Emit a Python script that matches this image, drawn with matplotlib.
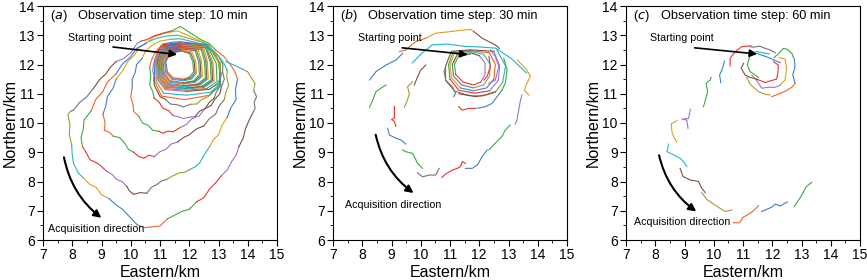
import matplotlib
matplotlib.use("Agg")
import matplotlib.pyplot as plt
from matplotlib.patches import FancyArrowPatch
from matplotlib.ticker import MultipleLocator

plt.rcParams['font.family'] = ['Liberation Sans', 'DejaVu Sans']

palette = ['#3c7fd4', '#f26522', '#3cab45', '#e8352e', '#a070cc',
           '#7e4e3e', '#747474', '#a09c32', '#20b8c8', '#dca020']

x_ticks = [7, 8, 9, 10, 11, 12, 13, 14, 15]
y_ticks = [6, 7, 8, 9, 10, 11, 12, 13, 14]
tags = ['a', 'b', 'c']
titles = ['Observation time step: 10 min',
          'Observation time step: 30 min',
          'Observation time step: 60 min']

# panel (a): dense inner rings of the spiral, inner to outer (km)
rings_a = [
    [(11.7, 12.45), (11.35, 12.38), (11.2, 12.1), (11.25, 11.75), (11.45, 11.55), (11.8, 11.5),
     (12.0, 11.57), (12.15, 11.75), (12.12, 12.1), (12.0, 12.38)],
    [(11.68, 12.48), (11.32, 12.4), (11.17, 12.1), (11.22, 11.74), (11.42, 11.52), (11.8, 11.47),
     (12.04, 11.53), (12.2, 11.72), (12.17, 12.1), (12.05, 12.4)],
    [(11.65, 12.5), (11.3, 12.42), (11.15, 12.12), (11.2, 11.72), (11.4, 11.5), (11.8, 11.44),
     (12.08, 11.5), (12.25, 11.7), (12.22, 12.1), (12.1, 12.42)],
    [(11.7, 12.52), (11.28, 12.45), (11.1, 12.15), (11.15, 11.7), (11.35, 11.45), (11.8, 11.38),
     (12.15, 11.44), (12.35, 11.65), (12.32, 12.1), (12.2, 12.47)],
    [(11.69, 12.54), (11.26, 12.46), (11.08, 12.13), (11.12, 11.68), (11.34, 11.42), (11.8, 11.35),
     (12.18, 11.42), (12.4, 11.62), (12.37, 12.11), (12.25, 12.48)],
    [(11.68, 12.55), (11.25, 12.48), (11.06, 12.12), (11.1, 11.66), (11.32, 11.4), (11.8, 11.33),
     (12.22, 11.4), (12.45, 11.6), (12.42, 12.12), (12.3, 12.5)],
    [(11.7, 12.57), (11.22, 12.5), (11.03, 12.15), (11.07, 11.62), (11.3, 11.35), (11.82, 11.28),
     (12.3, 11.34), (12.55, 11.55), (12.52, 12.12), (12.4, 12.52)],
    [(11.69, 12.58), (11.21, 12.51), (11.01, 12.13), (11.05, 11.61), (11.28, 11.32), (11.82, 11.26),
     (12.34, 11.32), (12.6, 11.53), (12.57, 12.11), (12.45, 12.53)],
    [(11.68, 12.6), (11.2, 12.52), (11.0, 12.12), (11.04, 11.6), (11.27, 11.3), (11.82, 11.24),
     (12.38, 11.3), (12.65, 11.52), (12.62, 12.1), (12.5, 12.55)],
    [(11.7, 12.62), (11.18, 12.55), (10.97, 12.15), (11.0, 11.57), (11.24, 11.26), (11.85, 11.2),
     (12.45, 11.26), (12.75, 11.48), (12.72, 12.08), (12.55, 12.58)],
    [(11.69, 12.63), (11.16, 12.56), (10.95, 12.13), (10.98, 11.56), (11.23, 11.24), (11.85, 11.18),
     (12.48, 11.24), (12.8, 11.46), (12.77, 12.06), (12.58, 12.59)],
    [(11.68, 12.65), (11.15, 12.57), (10.94, 12.12), (10.97, 11.55), (11.22, 11.22), (11.85, 11.16),
     (12.52, 11.22), (12.85, 11.45), (12.82, 12.05), (12.6, 12.6)],
    [(11.7, 12.68), (11.12, 12.6), (10.91, 12.15), (10.94, 11.52), (11.2, 11.18), (11.88, 11.12),
     (12.6, 11.18), (12.95, 11.42), (12.92, 12.05), (12.62, 12.63)],
    [(11.7, 12.7), (11.1, 12.62), (10.88, 12.12), (10.9, 11.5), (11.18, 11.14), (11.9, 11.08),
     (12.68, 11.15), (13.05, 11.4), (13.02, 12.05), (12.65, 12.66)],
    [(11.7, 12.72), (11.08, 12.64), (10.86, 12.15), (10.86, 11.45), (11.12, 11.02), (11.9, 10.95),
     (12.72, 11.05), (13.07, 11.35), (13.05, 12.05), (12.67, 12.68)],
    [(11.7, 12.73), (11.06, 12.65), (10.83, 12.2), (10.8, 11.45), (11.05, 10.92), (11.85, 10.8),
     (12.7, 10.95), (13.07, 11.3), (13.06, 12.05), (12.6, 12.7)],
]

# panel (a): outer loops of the spiral, inner to outer (km)
loops_a = [
    [(11.7, 12.74), (11.4, 12.72), (11.05, 12.66), (10.92, 12.45), (10.85, 12.25), (10.78, 12.02),
     (10.75, 11.8), (10.8, 11.55), (10.8, 11.3), (10.9, 11.1), (11.0, 10.9), (11.2, 10.8),
     (11.35, 10.65), (11.6, 10.62), (11.8, 10.55), (12.05, 10.64), (12.25, 10.65), (12.45, 10.82),
     (12.65, 10.9), (12.78, 11.08), (12.95, 11.2), (13.0, 11.42), (13.08, 11.6), (13.03, 11.82),
     (13.05, 12.05), (12.92, 12.22), (12.85, 12.4), (12.68, 12.52), (12.5, 12.68)],
    [(11.7, 12.78), (11.4, 12.76), (11.1, 12.7), (10.92, 12.52), (10.8, 12.35), (10.7, 12.12),
     (10.65, 11.9), (10.68, 11.6), (10.65, 11.3), (10.75, 11.08), (10.8, 10.85), (10.98, 10.7),
     (11.1, 10.5), (11.3, 10.42), (11.45, 10.25), (11.62, 10.22), (11.8, 10.15), (12.0, 10.2),
     (12.2, 10.22), (12.35, 10.4), (12.55, 10.5), (12.68, 10.7), (12.85, 10.85), (12.92, 11.05),
     (13.05, 11.25), (13.05, 11.48), (13.1, 11.7), (13.02, 11.9), (13.0, 12.1), (12.92, 12.3),
     (12.8, 12.45), (12.6, 12.55), (12.45, 12.7)],
    [(11.7, 12.88), (11.35, 12.86), (11.0, 12.8), (10.72, 12.65), (10.5, 12.45), (10.38, 12.2),
     (10.2, 12.0), (10.15, 11.72), (10.05, 11.5), (10.05, 11.2), (10.0, 10.9), (10.08, 10.62),
     (10.1, 10.4), (10.28, 10.22), (10.4, 10.0), (10.6, 9.92), (10.75, 9.75), (10.95, 9.72),
     (11.1, 9.65), (11.28, 9.72), (11.45, 9.7), (11.7, 9.85), (11.9, 9.95), (12.1, 10.15),
     (12.35, 10.25), (12.52, 10.48), (12.75, 10.6), (12.88, 10.82), (13.05, 11.0), (13.1, 11.25),
     (13.2, 11.5), (13.14, 11.75), (13.15, 12.0), (13.05, 12.2), (12.9, 12.4), (12.72, 12.55),
     (12.5, 12.75)],
    [(11.6, 13.0), (11.25, 12.98), (10.9, 12.9), (10.6, 12.78), (10.3, 12.6), (10.12, 12.32),
     (9.9, 12.1), (9.72, 11.78), (9.5, 11.5), (9.4, 11.2), (9.2, 10.9), (9.15, 10.6), (9.05, 10.3),
     (9.12, 10.02), (9.1, 9.75), (9.28, 9.68), (9.4, 9.55), (9.62, 9.5), (9.8, 9.3), (9.92, 9.1),
     (10.1, 9.0), (10.28, 8.85), (10.45, 8.8), (10.62, 8.9), (10.8, 8.85), (11.0, 9.02), (11.2, 9.1),
     (11.38, 9.28), (11.6, 9.35), (11.8, 9.5), (12.0, 9.6), (12.25, 9.8), (12.5, 9.9), (12.68, 10.14),
     (12.9, 10.3), (13.02, 10.58), (13.2, 10.8), (13.25, 11.05), (13.35, 11.3), (13.28, 11.55),
     (13.3, 11.8), (13.18, 12.05), (13.0, 12.3), (12.8, 12.5), (12.5, 12.75)],
    [(11.6, 13.15), (11.2, 13.08), (10.8, 12.95), (10.52, 12.72), (10.2, 12.55), (9.98, 12.25),
     (9.7, 12.0), (9.5, 11.68), (9.2, 11.4), (9.05, 11.08), (8.8, 10.8), (8.65, 10.42), (8.4, 10.1),
     (8.38, 9.8), (8.3, 9.5), (8.35, 9.2), (8.48, 8.98), (8.6, 8.75), (8.9, 8.6), (9.18, 8.35),
     (9.35, 8.25), (9.52, 8.07), (9.7, 8.0), (9.86, 7.84), (9.95, 7.68), (10.1, 7.56), (10.32, 7.62),
     (10.55, 7.6), (10.7, 7.8), (10.9, 7.9), (11.05, 8.02), (11.23, 8.07), (11.45, 8.2), (11.68, 8.3),
     (11.85, 8.32), (12.0, 8.4), (12.2, 8.5), (12.36, 8.64), (12.52, 8.92), (12.7, 9.2), (12.82, 9.42),
     (13.0, 9.6), (13.12, 9.92), (13.3, 10.2), (13.42, 10.52), (13.6, 10.8), (13.58, 11.15),
     (13.65, 11.5), (13.55, 11.78), (13.4, 12.0), (13.18, 12.28), (12.9, 12.5), (12.68, 12.72),
     (12.4, 12.85)],
    [(11.7, 13.3), (11.4, 13.15), (11.1, 13.07), (10.8, 12.98), (10.55, 12.85), (10.35, 12.8),
     (10.2, 12.7), (10.02, 12.42), (9.75, 12.2), (9.5, 12.1), (9.3, 11.9), (9.15, 11.68), (8.95, 11.5),
     (8.72, 11.18), (8.5, 10.9), (8.25, 10.7), (8.05, 10.45), (7.95, 10.4), (7.85, 10.3), (7.92, 9.95),
     (7.9, 9.6), (7.98, 9.25), (8.0, 8.9), (8.05, 8.6), (8.2, 8.3), (8.38, 8.12), (8.6, 7.9),
     (8.82, 7.8), (9.0, 7.55), (9.25, 7.42), (9.5, 7.2), (9.72, 7.05), (10.0, 6.75), (10.22, 6.52),
     (10.5, 6.42), (10.75, 6.45), (11.0, 6.48), (11.25, 6.72), (11.5, 6.85), (11.75, 6.98),
     (12.0, 7.05), (12.25, 7.3), (12.5, 7.45), (12.7, 7.75), (12.9, 7.95), (13.1, 8.2), (13.3, 8.4),
     (13.45, 8.68), (13.6, 8.9), (13.7, 9.2), (13.85, 9.5), (13.92, 9.8), (14.05, 10.1), (14.15, 10.3),
     (14.25, 10.5), (14.22, 10.7), (14.3, 10.9), (14.2, 11.12), (14.25, 11.35), (14.1, 11.58),
     (14.0, 11.75), (13.8, 11.85), (13.6, 11.95), (13.25, 12.1)],
]

# panel (b): inner rings plus separate observed pieces
rings_b = [
    [(11.7, 12.35), (11.3, 12.3), (11.15, 12.0), (11.2, 11.65), (11.45, 11.4), (11.8, 11.3),
     (12.05, 11.4), (12.2, 11.65), (12.2, 12.05), (12.0, 12.3)],
    [(11.7, 12.4), (11.25, 12.35), (11.08, 12.0), (11.12, 11.6), (11.4, 11.3), (11.8, 11.2),
     (12.15, 11.3), (12.35, 11.6), (12.38, 12.0), (12.15, 12.35)],
    [(11.65, 12.45), (11.15, 12.38), (11.0, 12.0), (11.05, 11.55), (11.35, 11.2), (11.8, 11.1),
     (12.25, 11.2), (12.5, 11.5), (12.55, 12.0), (12.35, 12.4)],
    [(11.65, 12.48), (11.1, 12.4), (10.95, 12.0), (11.0, 11.5), (11.3, 11.12), (11.85, 11.02),
     (12.35, 11.1), (12.65, 11.45), (12.7, 11.95), (12.5, 12.45)],
    [(11.7, 12.5), (11.05, 12.45), (10.85, 11.95), (10.85, 11.45), (11.15, 11.1), (11.6, 10.95),
     (12.1, 10.92), (12.55, 11.05), (12.8, 11.4), (12.9, 11.95), (12.6, 12.5)],
]
pieces_b = [
    (6, [(9.89, 8.3), (10.06, 8.16), (10.29, 8.22), (10.51, 8.22), (10.63, 8.45)]),
    (3, [(10.72, 8.14), (10.86, 8.26), (11.08, 8.39), (11.25, 8.45), (11.36, 8.51), (11.42, 8.68), (11.53, 8.62)]),
    (0, [(11.53, 8.45), (11.76, 8.45), (11.93, 8.56), (12.1, 8.85), (12.27, 9.08)]),
    (2, [(12.33, 9.08), (12.55, 9.31), (12.78, 9.54), (12.89, 9.76), (13.06, 9.93)]),
    (4, [(13.23, 9.96), (13.29, 10.1), (13.34, 10.39), (13.4, 10.73), (13.46, 10.96)]),
    (9, [(13.7, 10.95), (13.55, 11.1), (13.6, 11.3), (13.75, 11.6), (13.6, 11.85), (13.3, 12.15)]),
    (8, [(9.71, 12.05), (10.0, 12.35), (10.39, 12.67), (10.9, 12.7), (11.5, 12.62), (12.0, 12.6),
         (12.56, 12.56), (13.1, 12.2), (13.62, 11.71)]),
    (1, [(9.27, 12.44), (9.5, 12.5), (9.61, 12.61), (9.83, 12.78), (10.17, 12.9)]),
    (9, [(10.17, 12.9), (10.51, 13.07), (10.97, 13.12), (11.3, 13.16), (11.7, 13.2), (11.82, 13.12)]),
    (5, [(11.82, 13.12), (12.1, 12.9), (12.33, 12.78), (12.55, 12.67), (12.69, 12.55)]),
    (0, [(8.25, 11.47), (8.47, 11.76), (8.81, 11.98), (9.15, 12.15), (9.38, 12.38)]),
    (2, [(8.25, 10.54), (8.36, 10.79), (8.47, 11.07), (8.64, 11.19), (8.81, 11.3)]),
    (7, [(9.44, 10.54), (9.55, 10.79), (9.61, 11.01), (9.55, 11.24), (9.72, 11.41)]),
    (5, [(9.78, 11.3), (9.89, 11.58), (10.0, 11.81), (10.17, 11.98)]),
    (3, [(9.1, 10.56), (9.1, 10.16), (9.0, 10.12), (9.1, 10.05), (9.15, 9.88)]),
    (0, [(8.87, 9.82), (8.93, 9.59), (9.15, 9.48), (9.32, 9.42), (9.49, 9.28)]),
    (2, [(9.38, 9.08), (9.49, 9.02), (9.72, 8.96), (9.81, 8.79), (9.89, 8.62), (10.06, 8.45)]),
    (3, [(11.3, 10.56), (11.42, 10.44), (11.64, 10.5), (11.87, 10.5)]),
    (0, [(11.93, 10.5), (12.21, 10.56), (12.44, 10.67), (12.61, 10.9), (12.78, 11.13)]),
    (2, [(12.78, 11.13), (12.89, 11.36), (12.95, 11.81), (12.84, 12.21)]),
    (6, [(10.85, 11.93), (10.8, 11.75), (10.85, 11.47), (11.08, 11.24), (11.19, 11.01), (11.13, 10.9)]),
    (5, [(11.3, 11.0), (11.53, 10.96), (11.87, 10.9), (12.21, 10.96), (12.55, 11.07)]),
    (4, [(12.38, 12.5), (12.55, 12.27), (12.67, 11.93), (12.55, 11.47), (12.33, 11.36)]),
    (3, [(12.33, 12.27), (12.38, 11.93), (12.27, 11.59), (12.16, 11.47)]),
]

# panel (c): observed pieces only
pieces_c = [
    (2, [(12.75, 7.14), (12.86, 7.31), (12.98, 7.48), (13.07, 7.65), (13.16, 7.82), (13.27, 7.91), (13.35, 7.97)]),
    (0, [(11.64, 6.97), (11.81, 7.05), (11.98, 7.12), (12.1, 7.23), (12.27, 7.16), (12.38, 7.23), (12.52, 7.3)]),
    (1, [(10.67, 6.59), (10.88, 6.59), (10.99, 6.77), (11.19, 6.88), (11.36, 7.0), (11.53, 7.17)]),
    (7, [(9.59, 7.62), (9.76, 7.39), (9.99, 7.23), (10.22, 7.08), (10.39, 6.97), (10.62, 7.03)]),
    (5, [(8.85, 8.45), (8.95, 8.17), (9.2, 8.05), (9.48, 8.0), (9.59, 7.77), (9.71, 7.62)]),
    (8, [(8.46, 9.28), (8.4, 9.02), (8.63, 8.91), (8.85, 8.79), (8.97, 8.68), (9.08, 8.51)]),
    (4, [(9.2, 10.47), (9.14, 10.16), (8.91, 10.13), (9.08, 10.1), (9.12, 9.82)]),
    (9, [(8.74, 10.08), (8.55, 9.97), (8.57, 9.7), (8.63, 9.53), (8.74, 9.34)]),
    (2, [(9.65, 10.56), (9.73, 10.84), (9.79, 11.07), (9.74, 11.36), (9.88, 11.47), (9.91, 11.56)]),
    (0, [(10.24, 11.38), (10.2, 11.64), (10.3, 11.87), (10.37, 12.12)]),
    (3, [(10.56, 11.95), (10.56, 12.21), (10.73, 12.44), (10.96, 12.61), (11.27, 12.64)]),
    (6, [(11.24, 12.61), (11.36, 12.59), (11.56, 12.63), (11.76, 12.55), (11.93, 12.5), (12.1, 12.4)]),
    (8, [(11.24, 12.38), (11.47, 12.44), (11.7, 12.4), (11.9, 12.36)]),
    (0, [(11.47, 12.38), (11.87, 12.24), (12.27, 12.06)]),
    (2, [(12.06, 12.24), (12.21, 12.36), (12.38, 12.55), (12.52, 12.52), (12.67, 12.38), (12.72, 12.24)]),
    (0, [(12.75, 12.21), (12.78, 11.93), (12.7, 11.64), (12.78, 11.36)]),
    (1, [(12.78, 11.36), (12.67, 11.22), (12.49, 11.11), (12.27, 11.01), (11.98, 10.9)]),
    (7, [(11.13, 11.56), (11.24, 11.33), (11.53, 11.07), (11.76, 10.98), (11.93, 10.96)]),
    (9, [(12.23, 12.24), (12.44, 12.18), (12.49, 11.87), (12.44, 11.47), (12.29, 11.33)]),
    (4, [(11.3, 11.64), (11.47, 11.45), (11.64, 11.19), (11.87, 11.22), (12.1, 11.22), (12.29, 11.3)]),
    (3, [(12.04, 12.1), (12.21, 11.98), (12.19, 11.7), (12.15, 11.5), (11.93, 11.44), (11.76, 11.38), (11.47, 11.5)]),
    (5, [(11.02, 12.04), (10.94, 11.87), (11.07, 11.64), (11.24, 11.56), (11.47, 11.5)]),
    (2, [(11.24, 12.33), (11.15, 11.98), (11.24, 11.76), (11.53, 11.56)]),
]

# annotation anchors (km)
start_text = [(7.87, 12.9), (7.87, 12.9), (7.83, 12.9)]
start_arrow = [((9.3, 12.61), (11.68, 12.33)), ((9.27, 12.58), (11.7, 12.33)), ((9.25, 12.58), (11.58, 12.35))]
acq_text = [(7.17, 6.36), (7.4, 7.19), (7.26, 6.6)]
acq_arrow = [((7.7, 8.92), (9.07, 6.7)), ((8.44, 9.69), (9.83, 7.55)), ((8.11, 8.99), (9.48, 6.92))]


def draw_path(ax, loops, step, k):
    # one continuous track, cut into short coloured pieces
    path = [p for loop in loops for p in loop]
    for i in range(0, len(path) - 1, step):
        seg = path[i:i + step + 1]
        ax.plot([p[0] for p in seg], [p[1] for p in seg], color=palette[k % len(palette)], lw=0.8)
        k += 1
    return k


def draw_pieces(ax, pieces):
    for c, seg in pieces:
        ax.plot([p[0] for p in seg], [p[1] for p in seg], color=palette[c], lw=0.8)


fig = plt.figure(figsize=(8.67, 2.8), dpi=100)
lefts = [43 / 867, 333 / 867, 626 / 867]
axes = [fig.add_axes([l, 40 / 280, 234 / 867, 234 / 280]) for l in lefts]

k = draw_path(axes[0], rings_a, 3, 0)
draw_path(axes[0], [rings_a[-1][-1:]] + loops_a, 4, k)
draw_path(axes[1], rings_b, 3, 2)
draw_pieces(axes[1], pieces_b)
draw_pieces(axes[2], pieces_c)

for i, ax in enumerate(axes):
    ax.set_xlim(7, 15)
    ax.set_ylim(6, 14)
    ax.set_xticks(x_ticks)
    ax.set_yticks(y_ticks)
    ax.xaxis.set_minor_locator(MultipleLocator(0.5))
    ax.yaxis.set_minor_locator(MultipleLocator(0.5))
    ax.tick_params(which='major', direction='out', length=4, width=0.8, labelsize=10, pad=2)
    ax.tick_params(which='minor', direction='out', length=2, width=0.6)
    for s in ax.spines.values():
        s.set_linewidth(0.8)
    ax.set_xlabel('Eastern/km', fontsize=11.5, labelpad=2)
    ax.set_ylabel('Northern/km', fontsize=11.5, labelpad=1)
    ax.text(7.23, 13.66, r'($\it{' + tags[i] + r'}$)', fontsize=9.2, va='center')
    ax.text(8.2, 13.66, titles[i], fontsize=9.2, va='center')
    ax.text(start_text[i][0], start_text[i][1], 'Starting point', fontsize=7.7, va='center')
    ax.text(acq_text[i][0], acq_text[i][1], 'Acquisition direction', fontsize=7.7, va='center')
    a0, a1 = start_arrow[i]
    ax.add_patch(FancyArrowPatch(a0, a1, arrowstyle='-|>', mutation_scale=11, lw=1.2,
                                 color='k', zorder=5))
    b0, b1 = acq_arrow[i]
    ax.add_patch(FancyArrowPatch(b0, b1, arrowstyle='-|>', mutation_scale=11, lw=1.5,
                                 color='k', connectionstyle='arc3,rad=0.2', zorder=5))

fig.savefig('out.png', dpi=100)
